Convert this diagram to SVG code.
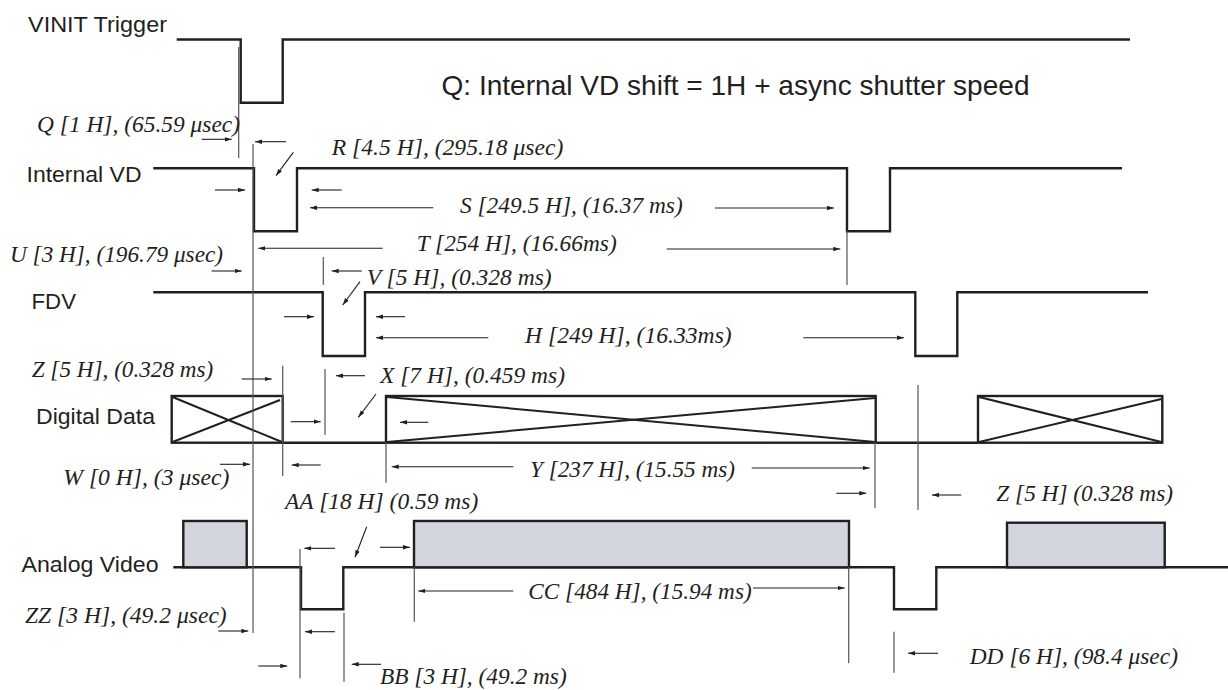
<svg xmlns="http://www.w3.org/2000/svg" width="1228" height="690" viewBox="0 0 1228 690">
<defs>
<marker id="ah" markerUnits="userSpaceOnUse" markerWidth="8" markerHeight="5" refX="7" refY="2.5" orient="auto"><path d="M0,0.3 L7,2.5 L0,4.7 z" fill="#231f20"/></marker>
<style>
.sig{fill:none;stroke:#231f20;stroke-width:2.4;stroke-linejoin:miter}
.box{fill:#fff;stroke:#231f20;stroke-width:2.4}
.gbox{fill:#d2d5de;stroke:#231f20;stroke-width:2.4}
.x{stroke:#231f20;stroke-width:2}
.g{stroke:#555;stroke-width:1.2;fill:none}
.a{stroke:#231f20;stroke-width:1.1;fill:none;marker-end:url(#ah)}
.lbl{font-family:"Liberation Sans",Arial,sans-serif;font-size:22px;fill:#231f20}
.big{font-family:"Liberation Sans",Arial,sans-serif;font-size:28px;fill:#231f20}
.it{font-family:"Liberation Serif","Times New Roman",serif;font-style:italic;font-size:22.5px;fill:#231f20}
</style>
</defs>
<rect width="1228" height="690" fill="#fff"/>

<g id="vinit">
<text class="lbl" x="28" y="32" textLength="139" lengthAdjust="spacingAndGlyphs">VINIT Trigger</text>
<polyline class="sig" points="176.7,39.5 240.7,39.5 240.7,102.7 282.7,102.7 282.7,39.5 1130,39.5"/>
</g>
<text id="note" class="big" x="441.5" y="95" textLength="588" lengthAdjust="spacingAndGlyphs">Q: Internal VD shift = 1H + async shutter speed</text>

<g id="internal-vd">
<text class="lbl" x="26.5" y="182" textLength="115" lengthAdjust="spacingAndGlyphs">Internal VD</text>
<polyline class="sig" points="153.3,168.3 254,168.3 254,231.3 297,231.3 297,168.3 847,168.3 847,231.3 890,231.3 890,168.3 1122,168.3"/>
</g>

<g id="fdv">
<text class="lbl" x="31.5" y="308.5" textLength="44.5" lengthAdjust="spacingAndGlyphs">FDV</text>
<polyline class="sig" points="153.3,292.3 322.7,292.3 322.7,356 365,356 365,292.3 915.3,292.3 915.3,356 957.3,356 957.3,292.3 1148,292.3"/>
</g>

<g id="digital-data">
<text class="lbl" x="36" y="423.5" textLength="119" lengthAdjust="spacingAndGlyphs">Digital Data</text>
<polyline class="sig" points="282.7,442.7 386,442.7"/>
<polyline class="sig" points="875.7,442.7 978,442.7"/>
<rect class="box" x="171.7" y="396" width="111" height="46.7"/>
<line class="x" x1="172.5" y1="397" x2="282" y2="442"/>
<line class="x" x1="172.5" y1="442" x2="280" y2="400"/>
<rect class="box" x="386" y="396" width="489.7" height="46.7"/>
<line class="x" x1="387" y1="397" x2="875" y2="442"/>
<line class="x" x1="387" y1="442" x2="875" y2="398"/>
<rect class="box" x="978" y="396" width="184.3" height="46.7"/>
<line class="x" x1="979" y1="397" x2="1161.5" y2="442"/>
<line class="x" x1="979" y1="442" x2="1161.5" y2="399"/>
</g>

<g id="analog-video">
<text class="lbl" x="21.5" y="572" textLength="137" lengthAdjust="spacingAndGlyphs">Analog Video</text>
<polyline class="sig" points="173.3,567.3 301,567.3 301,609.3 343.3,609.3 343.3,567.3 894,567.3 894,609.3 936.3,609.3 936.3,567.3 1228,567.3"/>
<rect class="gbox" x="183.3" y="521" width="63.4" height="46.3"/>
<rect class="gbox" x="414" y="521" width="435" height="46.3"/>
<rect class="gbox" x="1007" y="522.7" width="157.7" height="44.6"/>
</g>

<g id="connectors">
<g id="guides">
<line class="g" x1="238.7" y1="47" x2="238.7" y2="158"/>
<line class="g" x1="253" y1="144" x2="253" y2="633"/>
<line class="g" x1="847" y1="231" x2="847" y2="285"/>
<line class="g" x1="323.3" y1="257" x2="323.3" y2="285"/>
<line class="g" x1="282.7" y1="365.7" x2="282.7" y2="476"/>
<line class="g" x1="325" y1="369" x2="325" y2="435"/>
<line class="g" x1="386" y1="442" x2="386" y2="482.7"/>
<line class="g" x1="875" y1="442" x2="875" y2="508.3"/>
<line class="g" x1="918" y1="385" x2="918" y2="510"/>
<line class="g" x1="300" y1="549" x2="300" y2="678.3"/>
<line class="g" x1="414.3" y1="567" x2="414.3" y2="621.7"/>
<line class="g" x1="344" y1="612.7" x2="344" y2="681.7"/>
<line class="g" x1="848.7" y1="567" x2="848.7" y2="663.3"/>
<line class="g" x1="894" y1="631.7" x2="894" y2="672.7"/>
</g>
<g id="arrows">
<line class="a" x1="201.7" y1="139.3" x2="231.7" y2="139.3"/>
<line class="a" x1="286" y1="141.7" x2="255" y2="141.7"/>
<line class="a" x1="293.3" y1="152.3" x2="276" y2="175.7"/>
<line class="a" x1="215" y1="190" x2="245" y2="190"/>
<line class="a" x1="341.7" y1="190" x2="311.7" y2="190"/>
<line class="a" x1="433.3" y1="207.7" x2="310" y2="207.7"/>
<line class="a" x1="715" y1="208" x2="834" y2="208"/>
<line class="a" x1="382.7" y1="248.3" x2="258.3" y2="248.3"/>
<line class="a" x1="666.7" y1="249" x2="840.3" y2="249"/>
<line class="a" x1="211.7" y1="271" x2="241.7" y2="271"/>
<line class="a" x1="361.7" y1="271" x2="331.7" y2="271"/>
<line class="a" x1="360" y1="281.7" x2="342.7" y2="305"/>
<line class="a" x1="284" y1="316.7" x2="314" y2="316.7"/>
<line class="a" x1="405" y1="316.7" x2="376" y2="316.7"/>
<line class="a" x1="488.3" y1="337.7" x2="376" y2="337.7"/>
<line class="a" x1="803.3" y1="337.7" x2="904" y2="337.7"/>
<line class="a" x1="241.7" y1="379" x2="271.7" y2="379"/>
<line class="a" x1="365" y1="375.7" x2="336" y2="375.7"/>
<line class="a" x1="376" y1="394" x2="358.3" y2="417.3"/>
<line class="a" x1="290.7" y1="421.7" x2="320.7" y2="421.7"/>
<line class="a" x1="428.3" y1="422.3" x2="400" y2="422.3"/>
<line class="a" x1="220" y1="464.3" x2="250" y2="464.3"/>
<line class="a" x1="320.7" y1="465" x2="291.7" y2="465"/>
<line class="a" x1="513.3" y1="466.7" x2="391.7" y2="466.7"/>
<line class="a" x1="751.7" y1="468" x2="869.7" y2="468"/>
<line class="a" x1="836.3" y1="493.3" x2="866.3" y2="493.3"/>
<line class="a" x1="961.3" y1="495" x2="932" y2="495"/>
<line class="a" x1="366.7" y1="526.7" x2="355" y2="557.3"/>
<line class="a" x1="335" y1="548.3" x2="304.3" y2="548.3"/>
<line class="a" x1="380" y1="547.3" x2="410" y2="547.3"/>
<line class="a" x1="513.3" y1="591" x2="418.3" y2="591"/>
<line class="a" x1="753" y1="588" x2="844.7" y2="588"/>
<line class="a" x1="218.3" y1="631" x2="248.3" y2="631"/>
<line class="a" x1="335" y1="631.7" x2="305" y2="631.7"/>
<line class="a" x1="258.3" y1="666" x2="287.3" y2="666"/>
<line class="a" x1="381" y1="664.3" x2="351.7" y2="664.3"/>
<line class="a" x1="938" y1="653.3" x2="908" y2="653.3"/>
</g>
</g>

<g id="labels">
<text class="it" x="37" y="132" textLength="203" lengthAdjust="spacingAndGlyphs">Q [1 H], (65.59 μsec)</text>
<text class="it" x="331.7" y="155" textLength="231.6" lengthAdjust="spacingAndGlyphs">R [4.5 H], (295.18 μsec)</text>
<text class="it" x="460" y="213" textLength="222.7" lengthAdjust="spacingAndGlyphs">S [249.5 H], (16.37 ms)</text>
<text class="it" x="416.7" y="251" textLength="200" lengthAdjust="spacingAndGlyphs">T [254 H], (16.66ms)</text>
<text class="it" x="10" y="262" textLength="213" lengthAdjust="spacingAndGlyphs">U [3 H], (196.79 μsec)</text>
<text class="it" x="366.7" y="285" textLength="185" lengthAdjust="spacingAndGlyphs">V [5 H], (0.328 ms)</text>
<text class="it" x="525" y="343" textLength="206.7" lengthAdjust="spacingAndGlyphs">H [249 H], (16.33ms)</text>
<text class="it" x="31.7" y="376.5" textLength="181.6" lengthAdjust="spacingAndGlyphs">Z [5 H], (0.328 ms)</text>
<text class="it" x="380" y="383" textLength="185" lengthAdjust="spacingAndGlyphs">X [7 H], (0.459 ms)</text>
<text class="it" x="63.3" y="484.5" textLength="166" lengthAdjust="spacingAndGlyphs">W [0 H], (3 μsec)</text>
<text class="it" x="530" y="477" textLength="205" lengthAdjust="spacingAndGlyphs">Y [237 H], (15.55 ms)</text>
<text class="it" x="996.3" y="501" textLength="176.7" lengthAdjust="spacingAndGlyphs">Z [5 H] (0.328 ms)</text>
<text class="it" x="285" y="509" textLength="193.3" lengthAdjust="spacingAndGlyphs">AA [18 H] (0.59 ms)</text>
<text class="it" x="528.3" y="599" textLength="223.4" lengthAdjust="spacingAndGlyphs">CC [484 H], (15.94 ms)</text>
<text class="it" x="25" y="623" textLength="201.7" lengthAdjust="spacingAndGlyphs">ZZ [3 H], (49.2 μsec)</text>
<text class="it" x="969.7" y="664" textLength="208.3" lengthAdjust="spacingAndGlyphs">DD [6 H], (98.4 μsec)</text>
<text class="it" x="380" y="684" textLength="186.7" lengthAdjust="spacingAndGlyphs">BB [3 H], (49.2 ms)</text>
</g>
</svg>
